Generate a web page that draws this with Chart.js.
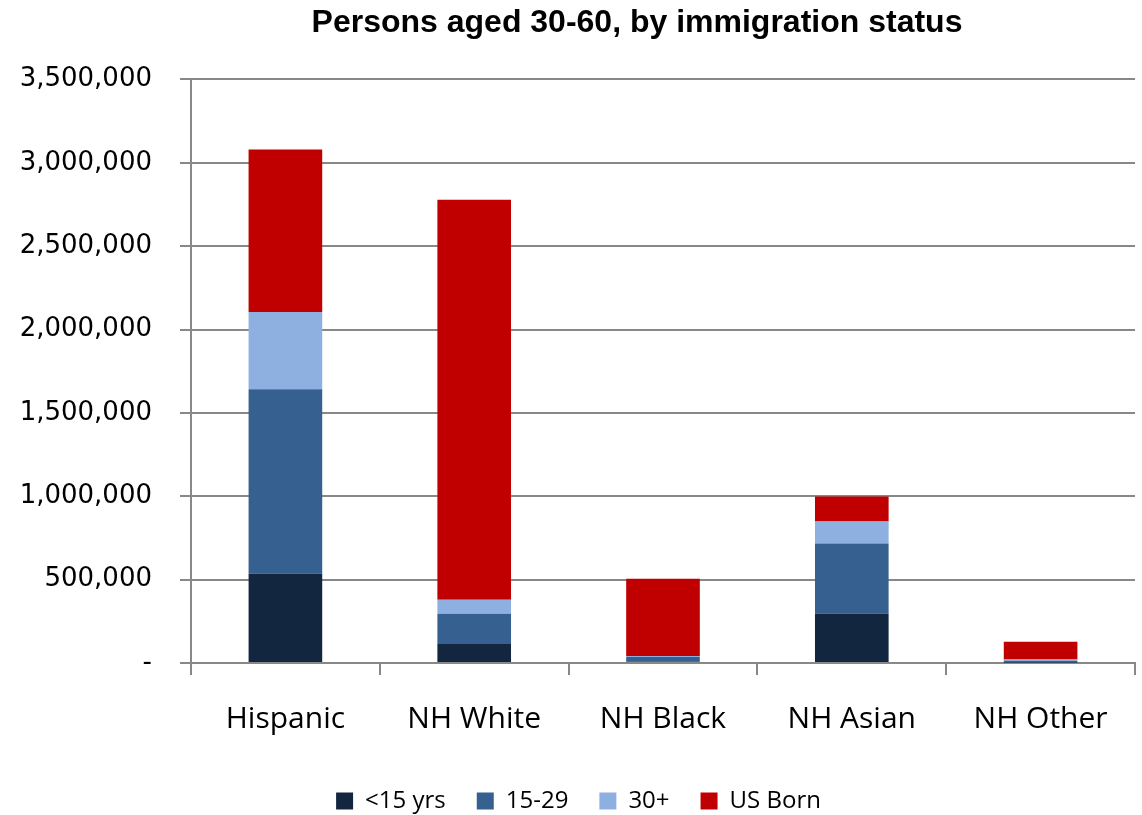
<!DOCTYPE html>
<html lang="en">
  <head>
    <meta charset="UTF-8" />
    <title>Persons aged 30-60, by immigration status</title>
    <style>
      html, body { margin: 0; padding: 0; background: #fff; }
      #wrap { width: 1142px; height: 815px; }
    </style>
  </head>
  <body>
    <div id="wrap"><canvas id="myChart" width="1142" height="815"></canvas></div>
  </body>
</html>
<script src="https://cdn.jsdelivr.net/npm/chart.js"></script>

<script>
  const groups = ["Hispanic", "NH White", "NH Black", "NH Asian", "NH Other"];
  const under15 = [535000, 114000, 8000, 295000, 3000];
  const yrs15to29 = [1107000, 181000, 28000, 421000, 10000];
  const yrs30plus = [463000, 84000, 6000, 132000, 8000];
  const usBorn = [974000, 2399000, 463000, 151000, 107000];

  const gridGrey = "#888888";

  function bars(label, data, color) {
    return {
      label: label,
      data: data,
      backgroundColor: color,
      borderWidth: 0,
      barPercentage: 0.39,
      categoryPercentage: 1.0,
    };
  }

  // nudge title and legend sideways after layout
  const shiftBlocks = {
    id: "shiftBlocks",
    afterLayout(chart) {
      const t = chart.titleBlock;
      if (t) {
        const w = t.right - t.left;
        t.left = 637 - w / 2;
        t.right = 637 + w / 2;
      }
      const l = chart.legend;
      if (l) {
        l.left += 11;
        l.right += 11;
      }
    },
  };

  const ctx = document.getElementById("myChart").getContext("2d");
  const myChart = new Chart(ctx, {
    type: "bar",
    data: {
      labels: groups,
      datasets: [
        bars("<15 yrs", under15, "#13263f"),
        bars("15-29", yrs15to29, "#36608f"),
        bars("30+", yrs30plus, "#8db0e0"),
        bars("US Born", usBorn, "#c00000"),
      ],
    },
    plugins: [shiftBlocks],
    options: {
      responsive: false,
      animation: false,
      layout: { padding: { top: 0, right: 7, bottom: -8, left: 0 } },
      plugins: {
        title: {
          display: true,
          text: "Persons aged 30-60, by immigration status",
          color: "#000",
          font: { family: "Liberation Sans", size: 32, weight: "bold" },
          padding: { top: 4, bottom: 37 },
        },
        legend: {
          position: "bottom",
          labels: {
            color: "#000",
            font: { family: "Open Sans", size: 24 },
            boxWidth: 17,
            boxHeight: 17,
            padding: 31,
          },
        },
        tooltip: { enabled: false },
      },
      scales: {
        x: {
          stacked: true,
          grid: {
            offset: true,
            drawOnChartArea: false,
            tickLength: 12,
            color: gridGrey,
            lineWidth: 2,
          },
          border: { color: gridGrey, width: 2 },
          ticks: {
            color: "#000",
            font: { family: "Open Sans", size: 30 },
            padding: 26,
          },
          afterFit: (scale) => {
            scale.height = 95;
          },
        },
        y: {
          stacked: true,
          min: 0,
          max: 3500000,
          grid: { color: gridGrey, lineWidth: 2, tickLength: 11 },
          border: { color: gridGrey, width: 2 },
          ticks: {
            stepSize: 500000,
            color: "#000",
            font: { family: "DejaVu Sans", size: 26 },
            padding: 28,
            callback: (v) => (v === 0 ? "-" : v.toLocaleString("en-US")),
          },
          afterFit: (scale) => {
            scale.width = 191;
          },
        },
      },
    },
  });
</script>
